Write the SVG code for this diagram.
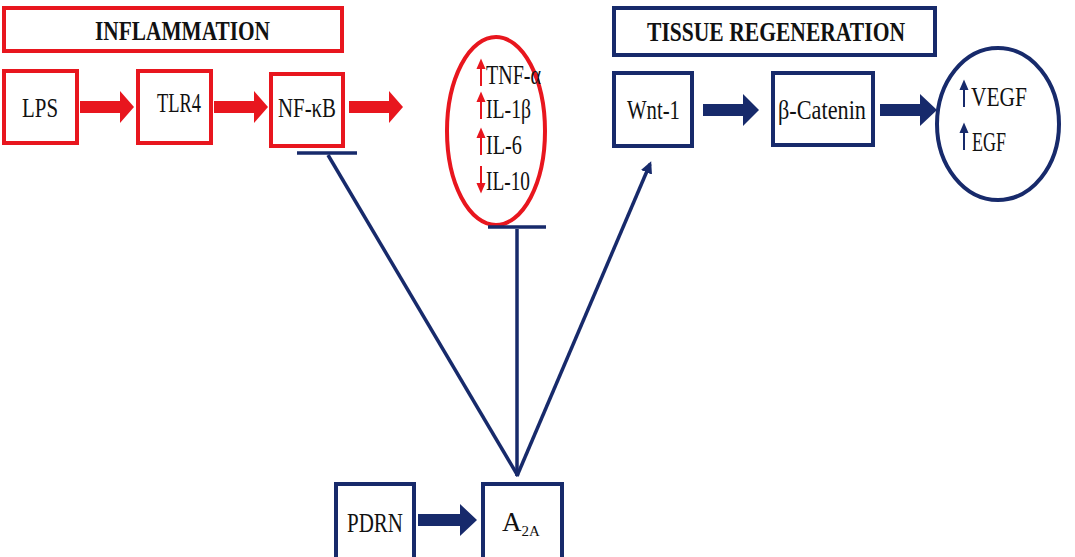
<svg xmlns="http://www.w3.org/2000/svg" width="1075" height="557" viewBox="0 0 1075 557">
<style>
.r{fill:#fff;stroke:#e8161e;stroke-width:4}
.b{fill:#fff;stroke:#172a6b;stroke-width:4}
text{font-family:'Liberation Serif','Times New Roman','DejaVu Serif',serif}
.t{font-size:27px;fill:#111}
.h{font-size:27px;font-weight:bold;fill:#111}
.bl{stroke:#172a6b;stroke-width:3.5;fill:none}
</style>
<defs>
<marker id="ah" markerWidth="12" markerHeight="12" refX="9" refY="6" orient="auto" markerUnits="userSpaceOnUse"><path d="M0,0 L12,6 L0,12z" fill="#172a6b"/></marker>
</defs>
<rect width="1075" height="557" fill="#fff"/>
<g id="inflammation"><rect class="r" x="4" y="8" width="338" height="43"/><text class="h" x="95" y="40" textLength="175" lengthAdjust="spacingAndGlyphs">INFLAMMATION</text></g>
<g id="lps"><rect class="r" x="4" y="71" width="73" height="72"/><text class="t" x="22" y="117" textLength="36" lengthAdjust="spacingAndGlyphs">LPS</text></g>
<g id="tlr4"><rect class="r" x="138" y="71" width="73" height="72"/><text class="t" x="157" y="112" textLength="44" lengthAdjust="spacingAndGlyphs">TLR4</text></g>
<g id="nfkb"><rect class="r" x="271" y="74" width="72" height="72"/><text class="t" x="278" y="117" textLength="58" lengthAdjust="spacingAndGlyphs">NF-κB</text></g>
<g id="cytokines"><ellipse class="r" cx="496" cy="131" rx="49" ry="94"/>
<g fill="#e8161e" stroke="#e8161e" stroke-width="2">
<line x1="481" y1="86" x2="481" y2="66"/><path d="M478,68 L481,61 L484,68z"/>
<line x1="481" y1="119" x2="481" y2="99"/><path d="M478,101 L481,94 L484,101z"/>
<line x1="481" y1="155" x2="481" y2="135"/><path d="M478,137 L481,130 L484,137z"/>
<line x1="481" y1="166" x2="481" y2="186"/><path d="M478,184 L481,191 L484,184z"/>
</g>
<text class="t" x="486" y="84" textLength="55" lengthAdjust="spacingAndGlyphs">TNF-α</text><text class="t" x="486" y="118" textLength="45" lengthAdjust="spacingAndGlyphs">IL-1β</text><text class="t" x="486" y="154" textLength="36" lengthAdjust="spacingAndGlyphs">IL-6</text><text class="t" x="486" y="190" textLength="44" lengthAdjust="spacingAndGlyphs">IL-10</text></g>
<g id="tissue"><rect class="b" x="614" y="8" width="321" height="47"/><text class="h" x="647" y="41" textLength="258" lengthAdjust="spacingAndGlyphs">TISSUE REGENERATION</text></g>
<g id="wnt1"><rect class="b" x="614" y="73" width="78" height="73"/><text class="t" x="627" y="119" textLength="53" lengthAdjust="spacingAndGlyphs">Wnt-1</text></g>
<g id="bcatenin"><rect class="b" x="773" y="73" width="100" height="72"/><text class="t" x="778" y="119" textLength="88" lengthAdjust="spacingAndGlyphs">β-Catenin</text></g>
<g id="growth"><ellipse class="b" cx="998" cy="124" rx="61" ry="76"/>
<g fill="#172a6b" stroke="#172a6b" stroke-width="2"><line x1="964" y1="107" x2="964" y2="87"/><path d="M961,89 L964,82 L967,89z"/><line x1="964" y1="150" x2="964" y2="130"/><path d="M961,132 L964,125 L967,132z"/></g>
<text class="t" x="971" y="106" textLength="56" lengthAdjust="spacingAndGlyphs">VEGF</text><text class="t" x="972" y="151" textLength="34" lengthAdjust="spacingAndGlyphs">EGF</text></g>
<g id="pdrn"><rect class="b" x="336" y="484" width="78" height="78"/><text class="t" x="347" y="532" textLength="56" lengthAdjust="spacingAndGlyphs">PDRN</text></g>
<g id="a2a"><rect class="b" x="483" y="484" width="79" height="78"/><text class="t" x="502" y="531">A<tspan font-size="15" dy="5">2A</tspan></text></g>
<g id="connectors">
<path d="M80,101 H120 V91 L134,107 L120,123 V113 H80z" fill="#e8161e"/>
<path d="M214,101 H254 V91 L268,107 L254,123 V113 H214z" fill="#e8161e"/>
<path d="M349,101 H389 V91 L403,107 L389,123 V113 H349z" fill="#e8161e"/>
<path d="M703,104 H743 V94 L759,110 L743,126 V116 H703z" fill="#172a6b"/>
<path d="M880,104 H920 V94 L937,110 L920,126 V116 H880z" fill="#172a6b"/>
<path d="M418,514 H460 V504 L477,520 L460,536 V526 H418z" fill="#172a6b"/>
<line class="bl" x1="297" y1="153" x2="357" y2="153" stroke-width="5"/>
<line class="bl" x1="328" y1="155" x2="518" y2="476"/>
<line class="bl" x1="488" y1="227" x2="546" y2="227" stroke-width="5"/>
<line class="bl" x1="517" y1="229" x2="517" y2="476"/>
<line class="bl" x1="517" y1="476" x2="650" y2="164" marker-end="url(#ah)"/>
</g>
</svg>
